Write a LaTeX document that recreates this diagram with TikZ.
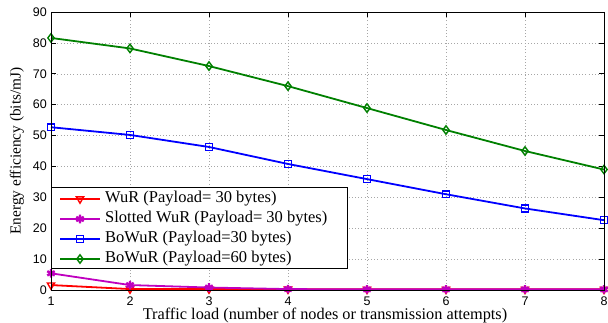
\documentclass[tikz,border=0pt]{standalone}
\usepackage{fontspec}
\setmainfont{Liberation Serif}
\newfontfamily\ticksfont{Liberation Sans}
\usetikzlibrary{plotmarks}
\definecolor{mgreen}{rgb}{0,0.5,0}
\definecolor{mmag}{rgb}{0.75,0,0.75}
\tikzset{
  gridline/.style={gray!70, line width=0.5pt, dash pattern=on 0.8pt off 2.4pt},
  axisframe/.style={black, line width=0.9pt},
  ticklabel/.style={font=\ticksfont\fontsize{12.5}{14}\selectfont, inner sep=0pt},
  curve/.style={line width=1.8pt},
  legendtext/.style={font=\fontsize{16.5}{18}\selectfont, anchor=west, inner sep=0pt},
  axistitle/.style={font=\fontsize{16.3}{18}\selectfont, inner sep=0pt},
  redmark/.style={mark=triangle, mark size=4.2pt, mark options={solid, rotate=180, line width=1.4pt, red}},
  magmark/.style={mark=asterisk, mark size=4.3pt, mark options={solid, mmag, line width=2.4pt}},
  bluemark/.style={mark=square, mark size=3.4pt, mark options={solid, blue, line width=1.4pt}},
  greenmark/.style={mark=diamond, mark size=4.2pt, mark options={solid, mgreen, line width=1.4pt}},
}
\begin{document}
\begin{tikzpicture}[x=1pt,y=1pt]
\useasboundingbox (0,0) rectangle (608,322);
\begin{scope}[x=79pt, y=3.0889pt, shift={(-28pt,32pt)}]
  % grid
  \foreach \i in {2,...,7} \draw[gridline] (\i,0) -- (\i,90);
  \foreach \j in {10,20,...,80} \draw[gridline] (1,\j) -- (8,\j);
  % ticks and labels
  \foreach \i in {1,...,8} {
    \draw[line width=0.6pt] (\i,0) -- ++(0,5pt);
    \draw[line width=0.6pt] (\i,90) -- ++(0,-5pt);
    \node[ticklabel, anchor=north] (xt\i) at ([yshift=-6.5pt]\i,0) {\i};
  }
  \foreach \j in {0,10,...,90} {
    \draw[line width=0.6pt] (1,\j) -- ++(5pt,0);
    \draw[line width=0.6pt] (8,\j) -- ++(-5pt,0);
    \node[ticklabel, anchor=east] (yt\j) at ([xshift=-4pt]1,\j) {\j};
  }
  % curves
  \draw[curve, mgreen, greenmark]
    plot coordinates {(1,81.6) (2,78.2) (3,72.5) (4,66.0) (5,58.9) (6,51.8) (7,45.0) (8,39.0)};
  \draw[curve, blue, bluemark]
    plot coordinates {(1,52.7) (2,50.2) (3,46.3) (4,40.8) (5,35.9) (6,31.0) (7,26.4) (8,22.6)};
  \draw[curve, red, redmark]
    plot coordinates {(1,1.6) (2,0.3) (3,0.3) (4,0.25) (5,0.2) (6,0.2) (7,0.2) (8,0.2)};
  \draw[curve, mmag, magmark]
    plot coordinates {(1,5.4) (2,1.6) (3,0.8) (4,0.3) (5,0.2) (6,0.2) (7,0.2) (8,0.2)};
  % frame
  \draw[axisframe] (1,0) rectangle (8,90);
\end{scope}
% legend
\draw[axisframe, fill=white] (51,54) rectangle (347,135);
\draw[curve, red] (60,123) -- (100,123);
\path[redmark] plot coordinates {(80,123)};
\node[legendtext] (l1) at (105,123) {WuR (Payload= 30 bytes)};
\draw[curve, mmag] (60,103) -- (100,103);
\path[magmark] plot coordinates {(80,103)};
\node[legendtext] (l2) at (105,103) {Slotted WuR (Payload= 30 bytes)};
\draw[curve, blue] (60,83) -- (100,83);
\path[bluemark] plot coordinates {(80,83)};
\node[legendtext] (l3) at (105,83) {BoWuR (Payload=30 bytes)};
\draw[curve, mgreen] (60,63) -- (100,63);
\path[greenmark] plot coordinates {(80,63)};
\node[legendtext] (l4) at (105,63) {BoWuR (Payload=60 bytes)};
% axis titles
\node[axistitle, anchor=base] (xlab) at (325,2.5) {Traffic load (number of nodes or transmission attempts)};
\node[axistitle, font=\fontsize{15.3}{17}\selectfont, rotate=90] (ylab) at (17,171) {Energy efficiency (bits/mJ)};
\end{tikzpicture}
\end{document}
